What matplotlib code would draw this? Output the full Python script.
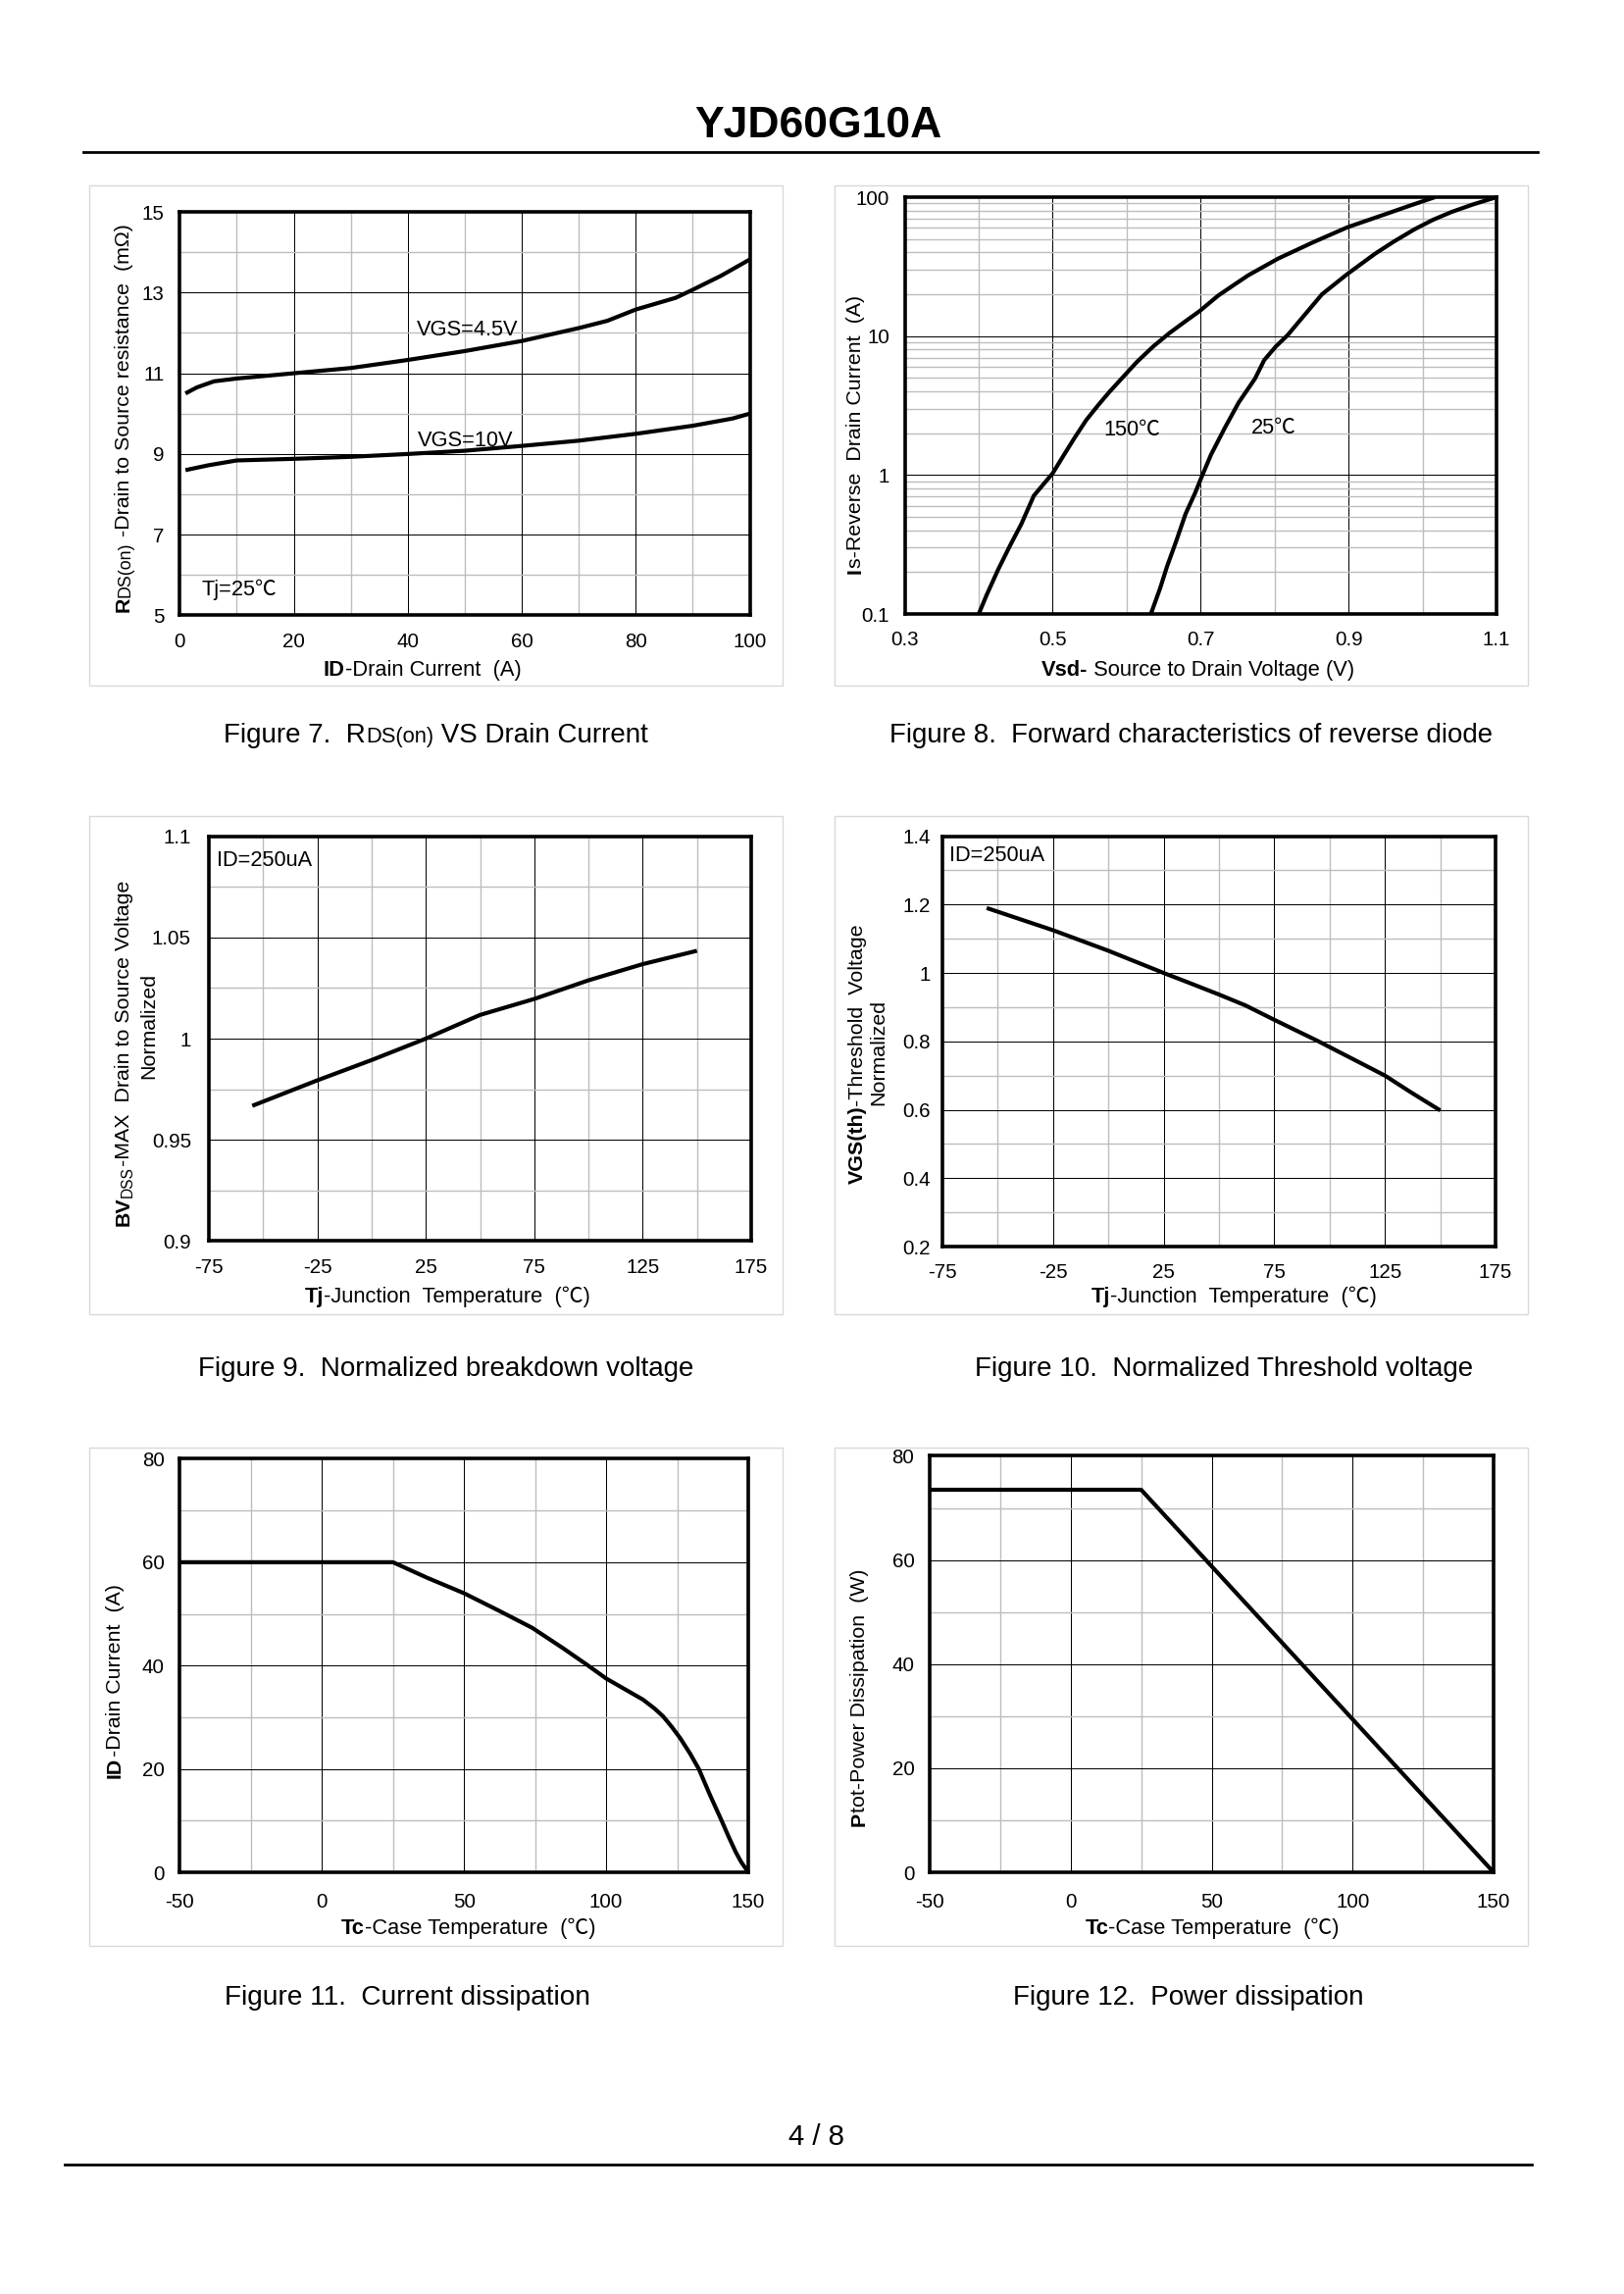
import matplotlib
matplotlib.use("Agg")
import matplotlib.pyplot as plt
from matplotlib.patches import Rectangle
from matplotlib.ticker import NullFormatter, FixedLocator

W, H = 1656, 2339
DPI = 200
FAM = ['Liberation Sans', 'Noto Sans CJK SC', 'DejaVu Sans']
plt.rcParams['font.family'] = FAM

# ---------- data ----------
id_45_x = [1, 3, 6, 10, 20, 30, 40, 50, 60, 70, 75, 80, 87, 90, 95, 100]
id_45_y = [10.5, 10.65, 10.8, 10.87, 11.0, 11.13, 11.33, 11.55, 11.8, 12.12, 12.3, 12.58, 12.87, 13.07, 13.42, 13.82]
id_10_x = [1, 5, 10, 20, 30, 40, 50, 60, 70, 80, 90, 97, 100]
id_10_y = [8.6, 8.72, 8.84, 8.88, 8.93, 9.0, 9.08, 9.2, 9.33, 9.5, 9.7, 9.88, 10.0]

vsd_150_x = [.4, .4107, .4263, .442, .4576, .4745, .5, .5139, .5295, .5452, .5608, .5764, .5952, .614, .6358,
             .6577, .6796, .6984, .7234, .7453, .764, .8047, .8516, .8985, .9517, .983, 1.0142, 1.017]
vsd_150_y = [.1, .137, .209, .308, .444, .71, 1.03, 1.36, 1.85, 2.48, 3.15, 3.95, 5.08, 6.53, 8.41,
             10.5, 12.8, 15.1, 19.5, 23.4, 27.3, 36.1, 47.2, 60.7, 76, 86.9, 98.9, 100]
vsd_25_x = [.6327, .6452, .6546, .6671, .6796, .6921, .7015, .714, .7328, .7515, .7734, .7859, .8016, .8172,
            .8391, .8641, .8985, .936, .961, .9892, 1.0142, 1.0392, 1.0674, 1.1]
vsd_25_y = [.1, .153, .22, .336, .525, .734, .973, 1.4, 2.19, 3.33, 4.93, 6.71, 8.41, 10.1,
            13.9, 20, 28, 39.2, 47.8, 58.7, 68.7, 78.2, 88.3, 100]

bv_x = [-55, -25, 0, 25, 50, 75, 100, 125, 150]
bv_y = [.9668, .9794, .9894, 1.0, 1.0117, 1.0196, 1.0288, 1.0368, 1.0434]

vth_x = [-55, -25, 0, 25, 37, 50, 62, 75, 95, 110, 125, 137, 150]
vth_y = [1.19, 1.125, 1.065, 1.0, .97, .937, .905, .863, .80, .75, .70, .65, .598]

ic_x = [-50, 25, 37, 50, 62, 74, 85, 93.4, 100, 113, 117, 120, 123, 126, 129.5, 132.6, 136.5, 140.7, 143, 145.6, 147.5, 150]
ic_y = [60, 60, 57, 54, 50.7, 47.3, 43.3, 40.1, 37.5, 33.4, 31.7, 30.2, 28.2, 26, 23, 20, 15, 9.9, 7, 3.9, 2, 0]

pt_x = [-50, 25, 150]
pt_y = [73.5, 73.5, 0]

fig = plt.figure(figsize=((W + .01) / DPI, (H + .01) / DPI), dpi=DPI, facecolor='white')
renderer = fig.canvas.get_renderer()


def fx(px): return px / W
def fy(py): return 1 - py / H


def rich(cx, cy, parts, rotation=0):
    """parts = [(string, weight, size[, drop])] laid out along a baseline, centred at cx, cy (pixels)."""
    widths = []
    for p in parts:
        s, w, sz = p[:3]
        t = fig.text(0, 0, '|' + s + '|', fontweight=w, fontsize=sz, family=FAM)
        a = t.get_window_extent(renderer).width
        t.set_text('||')
        b = t.get_window_extent(renderer).width
        t.remove()
        widths.append(a - b)
    pos = -sum(widths) / 2
    for p, wd in zip(parts, widths):
        s, w, sz = p[:3]
        drop = p[3] if len(p) > 3 else 0
        if rotation == 90:
            fig.text(fx(cx + drop), fy(cy - pos), s, rotation=90, ha='left', va='baseline',
                     rotation_mode='anchor', fontweight=w, fontsize=sz, family=FAM)
        else:
            fig.text(fx(cx + pos), fy(cy + drop), s, ha='left', va='baseline',
                     fontweight=w, fontsize=sz, family=FAM)
        pos += wd


def panel(box, axpos, xlim, ylim, xmaj, xmin, ymaj, ymin, xlab, ylab, log=False, ypad=5.6, xpad=6.2):
    x0, y0, x1, y1 = box
    fig.add_artist(Rectangle((fx(x0), fy(y1)), (x1 - x0) / W, (y1 - y0) / H, transform=fig.transFigure,
                             fc='white', ec='#d9d9d9', lw=0.5, zorder=0))
    a0, b0, a1, b1 = axpos
    ax = fig.add_axes([fx(a0), fy(b1), (a1 - a0) / W, (b1 - b0) / H])
    if log:
        ax.set_yscale('log')
    ax.set_xlim(xlim)
    ax.set_ylim(ylim)
    ax.set_xticks(xmaj)
    ax.set_xticklabels(xlab)
    ax.set_xticks(xmin, minor=True)
    ax.set_yticks(ymaj)
    ax.set_yticklabels(ylab)
    if log:
        ax.yaxis.set_minor_locator(FixedLocator(ymin))
        ax.yaxis.set_minor_formatter(NullFormatter())
    else:
        ax.set_yticks(ymin, minor=True)
    ax.grid(True, which='minor', color='#bdbdbd', lw=0.5)
    ax.grid(True, which='major', color='black', lw=0.36)
    ax.set_axisbelow(True)
    ax.tick_params(which='both', length=0)
    ax.tick_params(axis='x', which='major', labelsize=TICK, pad=xpad)
    ax.tick_params(axis='y', which='major', labelsize=TICK, pad=ypad)
    for sp in ax.spines.values():
        sp.set_linewidth(1.3)
        sp.set_color('black')
    return ax


def curve(ax, x, y):
    ax.plot(x, y, color='black', lw=1.5, solid_joinstyle='round', solid_capstyle='butt', zorder=3)


N, B = 'normal', 'bold'
SX, SY, T, TICK, C = 7.9, 7.7, 7.85, 7.4, 10.0

# ---------- Figure 7 ----------
ax = panel((91, 189.5, 797.5, 699), (183.3, 216, 764.6, 627.5), (0, 100), (5, 15),
           [0, 20, 40, 60, 80, 100], [10, 30, 50, 70, 90], [5, 7, 9, 11, 13, 15], [6, 8, 10, 12, 14],
           ['0', '20', '40', '60', '80', '100'], ['5', '7', '9', '11', '13', '15'])
curve(ax, id_45_x, id_45_y)
curve(ax, id_10_x, id_10_y)
ax.text(41.5, 11.94, 'VGS=4.5V', fontsize=T, ha='left', va='baseline')
ax.text(41.8, 9.18, 'VGS=10V', fontsize=T, ha='left', va='baseline')
ax.text(3.85, 5.49, 'Tj=25℃', fontsize=T, ha='left', va='baseline')
rich(430.7, 689, [('ID', B, SX), ('-Drain Current  (A)', N, SX)])
rich(132, 426, [('R', B, SY), ('DS(on)', N, 6.4), (' -Drain to Source resistance  (mΩ)', N, SY)], 90)

# ---------- Figure 8 ----------
log_minor = [m * d for d in (.1, 1, 10) for m in (2, 3, 4, 5, 6, 7, 8, 9)]
ax = panel((851, 189.5, 1557.5, 699), (922.6, 201, 1526, 626), (.3, 1.1), (.1, 100),
           [.3, .5, .7, .9, 1.1], [.4, .6, .8, 1.0], [.1, 1, 10, 100], log_minor,
           ['0.3', '0.5', '0.7', '0.9', '1.1'], ['0.1', '1', '10', '100'], log=True)
curve(ax, vsd_150_x, vsd_150_y)
curve(ax, vsd_25_x, vsd_25_y)
ax.text(.569, 1.94, '150℃', fontsize=T, ha='left', va='baseline')
ax.text(.768, 1.98, '25℃', fontsize=T, ha='left', va='baseline')
rich(1221.5, 689, [('Vsd-', B, SX), (' Source to Drain Voltage (V)', N, SX)])
rich(878, 443, [('I', B, SY), ('s-Reverse  Drain Current  (A)', N, SY)], 90)

# ---------- Figure 9 ----------
ax = panel((91, 831.7, 797.5, 1340), (213, 852.6, 766, 1265.4), (-75, 175), (.9, 1.1),
           [-75, -25, 25, 75, 125, 175], [-50, 0, 50, 100, 150], [.9, .95, 1, 1.05, 1.1],
           [.925, .975, 1.025, 1.075],
           ['-75', '-25', '25', '75', '125', '175'], ['0.9', '0.95', '1', '1.05', '1.1'], ypad=6.5)
curve(ax, bv_x, bv_y)
ax.text(-71.6, 1.0855, 'ID=250uA', fontsize=T, ha='left', va='baseline')
rich(456, 1328, [('Tj', B, SX), ('-Junction  Temperature  (℃)', N, SX)])
rich(132, 1074, [('BV', B, SY), ('DSS', N, 5.6, 3), ('-MAX  Drain to Source Voltage', N, SY)], 90)
rich(157, 1046, [('Normalized', N, SY)], 90)

# ---------- Figure 10 ----------
ax = panel((851, 831.7, 1557.5, 1340), (961, 852.6, 1525, 1271), (-75, 175), (.2, 1.4),
           [-75, -25, 25, 75, 125, 175], [-50, 0, 50, 100, 150], [.2, .4, .6, .8, 1, 1.2, 1.4],
           [.3, .5, .7, .9, 1.1, 1.3],
           ['-75', '-25', '25', '75', '125', '175'], ['0.2', '0.4', '0.6', '0.8', '1', '1.2', '1.4'], ypad=4.5)
curve(ax, vth_x, vth_y)
ax.text(-71.7, 1.327, 'ID=250uA', fontsize=T, ha='left', va='baseline')
rich(1258, 1328, [('Tj', B, SX), ('-Junction  Temperature  (℃)', N, SX)])
rich(880, 1074.6, [('VGS(th)', B, SY), ('-Threshold  Voltage', N, SY)], 90)
rich(901.5, 1073, [('Normalized', N, SY)], 90)

# ---------- Figure 11 ----------
ax = panel((91, 1475.6, 797.5, 1984), (183.3, 1487.5, 763, 1909), (-50, 150), (0, 80),
           [-50, 0, 50, 100, 150], [-25, 25, 75, 125], [0, 20, 40, 60, 80], [10, 30, 50, 70],
           ['-50', '0', '50', '100', '150'], ['0', '20', '40', '60', '80'], xpad=7.6)
curve(ax, ic_x, ic_y)
rich(477.7, 1972, [('Tc', B, SX), ('-Case Temperature  (℃)', N, SX)])
rich(123, 1714, [('ID', B, SY), ('-Drain Current  (A)', N, SY)], 90)

# ---------- Figure 12 ----------
ax = panel((851, 1475.6, 1557.5, 1984), (948, 1484.5, 1523, 1909), (-50, 150), (0, 80),
           [-50, 0, 50, 100, 150], [-25, 25, 75, 125], [0, 20, 40, 60, 80], [10, 30, 50, 70],
           ['-50', '0', '50', '100', '150'], ['0', '20', '40', '60', '80'], xpad=7.4)
curve(ax, pt_x, pt_y)
rich(1236, 1972, [('Tc', B, SX), ('-Case Temperature  (℃)', N, SX)])
rich(882, 1731, [('P', B, SY), ('tot-Power Dissipation  (W)', N, SY)], 90)

# ---------- page furniture ----------
rich(444.5, 757, [('Figure 7.  R', N, C), ('DS(on)', N, 7.9), (' VS Drain Current', N, C)])
rich(1214, 757, [('Figure 8.  Forward characteristics of reverse diode', N, 9.95)])
rich(454.6, 1403, [('Figure 9.  Normalized breakdown voltage', N, C)])
rich(1248, 1403, [('Figure 10.  Normalized Threshold voltage', N, C)])
rich(415.5, 2043.6, [('Figure 11.  Current dissipation', N, 10.1)])
rich(1212, 2043.6, [('Figure 12.  Power dissipation', N, C)])
rich(832, 2187, [('4 / 8', N, 10.6)])
rich(834, 140, [('YJD60G10A', B, 16)])

for (a, b, y) in [(85, 1568, 155), (65.6, 1562, 2207.5)]:
    fig.add_artist(plt.Line2D([fx(a), fx(b)], [fy(y), fy(y)], color='black', lw=1.0, transform=fig.transFigure))

fig.savefig('out.png', dpi=DPI, facecolor='white')
